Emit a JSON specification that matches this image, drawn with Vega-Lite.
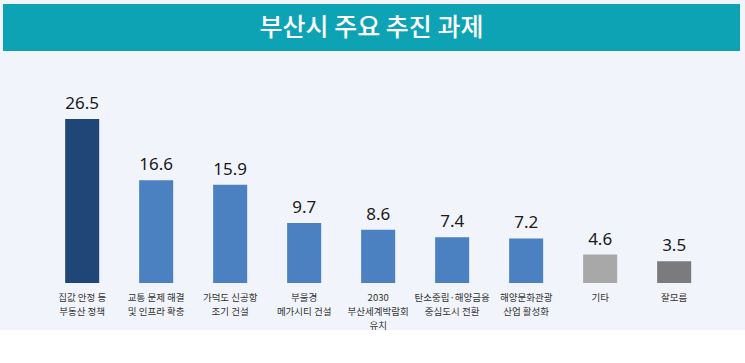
{
  "$schema": "https://vega.github.io/schema/vega-lite/v6.json",
  "background": "#f1f4fa",
  "padding": {"left": 3, "top": 4, "right": 5, "bottom": 0},
  "spacing": 0,
  "config": {"view": {"stroke": null}, "font": "Noto Sans CJK KR"},
  "vconcat": [
    {
      "width": 737,
      "height": 47,
      "view": {"fill": "#0ea3b4", "stroke": null},
      "data": {"values": [{"t": "부산시 주요 추진 과제"}]},
      "mark": {"type": "text", "color": "white", "fontSize": 25, "fontWeight": 500, "font": "Noto Sans CJK KR", "baseline": "middle"},
      "encoding": {"text": {"field": "t"}}
    },
    {
      "width": 737,
      "height": 232,
      "data": {"values": [
        {"item": "집값 안정 등|부동산 정책", "value": 26.5, "grp": "a"},
        {"item": "교통 문제 해결|및 인프라 확충", "value": 16.6, "grp": "b"},
        {"item": "가덕도 신공항|조기 건설", "value": 15.9, "grp": "b"},
        {"item": "부울경|메가시티 건설", "value": 9.7, "grp": "b"},
        {"item": "2030|부산세계박람회|유치", "value": 8.6, "grp": "b"},
        {"item": "탄소중립·해양금융|중심도시 전환", "value": 7.4, "grp": "b"},
        {"item": "해양문화관광|산업 활성화", "value": 7.2, "grp": "b"},
        {"item": "기타", "value": 4.6, "grp": "c"},
        {"item": "잘모름", "value": 3.5, "grp": "d"}
      ]},
      "encoding": {
        "x": {
          "field": "item", "type": "nominal", "sort": null,
          "scale": {"paddingInner": 0.54, "paddingOuter": 0.75, "align": 0.56},
          "axis": {
            "title": null, "domain": false, "ticks": false, "labelAngle": 0,
            "labelExpr": "split(datum.label, '|')",
            "labelFontSize": 9.5, "labelColor": "#333333", "labelPadding": 9,
            "labelLineHeight": 14, "labelFont": "Noto Sans CJK KR", "labelBaseline": "top",
            "labelOverlap": false
          }
        },
        "y": {"field": "value", "type": "quantitative", "scale": {"domain": [0, 37.5]}, "axis": null}
      },
      "layer": [
        {
          "mark": {"type": "bar"},
          "encoding": {
            "color": {
              "field": "grp", "type": "nominal", "legend": null,
              "scale": {"domain": ["a", "b", "c", "d"], "range": ["#1f4677", "#4b80c1", "#a8a8a8", "#7b7b7d"]}
            }
          }
        },
        {
          "mark": {"type": "text", "baseline": "bottom", "dy": -6, "fontSize": 17, "color": "#1a1a1a", "font": "Noto Sans"},
          "encoding": {"text": {"field": "value", "type": "quantitative", "format": ".1f"}}
        }
      ]
    }
  ]
}
